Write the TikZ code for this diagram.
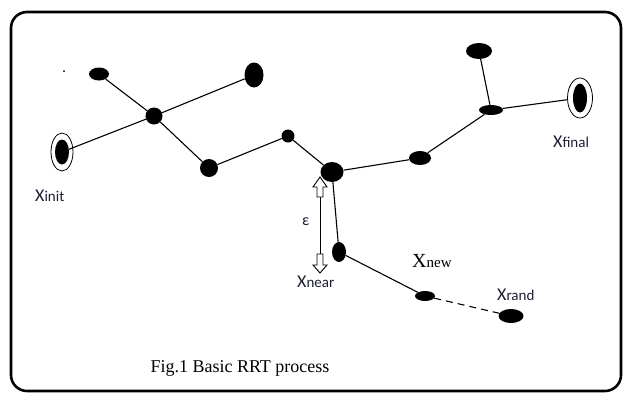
\documentclass[tikz,border=0pt]{standalone}
\usepackage{fontspec}
\setmainfont{Liberation Serif}
\newfontfamily\lblfont{Carlito}
\usetikzlibrary{shapes.geometric}
\definecolor{lblcol}{RGB}{28,30,50}
\newcommand\SX[1]{{\lblfont\fontsize{18}{18}\selectfont X}{\lblfont\fontsize{15}{15}\selectfont #1}}
\newcommand\RX[1]{{\fontsize{20}{20}\selectfont X}{\fontsize{15}{15}\selectfont #1}}
\begin{document}
\begin{tikzpicture}[x=1pt,y=-1pt,
  vtx/.style={ellipse,fill=black,inner sep=0pt},
  ring/.style={ellipse,draw=black,fill=white,line width=0.8pt,inner sep=0pt},
  edge/.style={line width=1.1pt},
  lbl/.style={inner sep=0pt,anchor=base west,text=lblcol},
  hollow/.style={draw=black,fill=white,line width=0.9pt,line join=miter}]
\useasboundingbox (0,0) rectangle (623,394);
\draw[line width=2.6pt,rounded corners=16pt] (11,12) rectangle (621,391);

% vertices
\node[vtx,minimum size=2pt] (dot) at (64,71) {};
\node[vtx,minimum width=20pt,minimum height=13pt] (a) at (99,74) {};
\node[vtx,minimum width=19pt,minimum height=25pt] (b) at (254,75) {};
\node[vtx,minimum width=17pt,minimum height=17pt] (c) at (154,116) {};
\node[ring,minimum width=22pt,minimum height=38pt] (xio) at (62,152) {};
\node[vtx,minimum width=14pt,minimum height=25pt] (xi) at (62,152) {};
\node[vtx,minimum width=18pt,minimum height=18pt] (d) at (209,168) {};
\node[vtx,minimum width=13pt,minimum height=13pt] (e) at (288,136) {};
\node[vtx,minimum width=23pt,minimum height=20pt] (f) at (332,172) {};
\node[vtx,minimum width=22pt,minimum height=14pt] (g) at (420,158) {};
\node[vtx,minimum width=24pt,minimum height=10pt] (h) at (491,110) {};
\node[vtx,minimum width=26pt,minimum height=16pt] (i) at (479,51) {};
\node[ring,minimum width=25pt,minimum height=40pt] (xfo) at (580,98) {};
\node[vtx,minimum width=14pt,minimum height=29pt] (xf) at (580,98) {};
\node[vtx,minimum width=14pt,minimum height=20pt] (j) at (339,252) {};
\node[vtx,minimum width=20pt,minimum height=10pt] (k) at (425,296) {};
\node[vtx,minimum width=25pt,minimum height=14pt] (l) at (511,316) {};

% edges
\draw[edge] (a) -- (c);
\draw[edge] (c) -- (b);
\draw[edge] (xi) -- (c);
\draw[edge] (c) -- (d);
\draw[edge] (d) -- (e);
\draw[edge] (e) -- (f);
\draw[edge] (f) -- (g);
\draw[edge] (g) -- (h);
\draw[edge] (h) -- (i);
\draw[edge] (h) -- (xfo);
\draw[edge] (f) -- (j);
\draw[edge] (j) -- (k);
\draw[edge,dash pattern=on 7pt off 5pt] (k) -- (l);

% epsilon double arrow
\coordinate (atop) at (320,197);
\coordinate (abot) at (320,254);
\draw[line width=1pt] (atop) -- (abot);
\draw[hollow] (320,177) -- (327,187) -- (323,187) -- (323,197) -- (317,197) -- (317,187) -- (313,187) -- cycle;
\draw[hollow] (317,254) -- (323,254) -- (323,265) -- (327,265) -- (320,273) -- (313,265) -- (317,265) -- cycle;

% labels
\node[lbl] (linit) at (35,201) {\SX{init}};
\node[lbl] (lfinal) at (553,147) {\SX{final}};
\node[lbl] (lnear) at (297,287) {\SX{near}};
\node[lbl] (lrand) at (497,300) {\SX{rand}};
\node[lbl,text=black] (lnew) at (412,267) {\RX{new}};
\node[lbl] (leps) at (302,225) {\lblfont\fontsize{16}{16}\selectfont ε};
\node[inner sep=0pt,anchor=base] (cap) at (240,372) {\fontsize{18}{18}\selectfont Fig.1 Basic RRT process};
\end{tikzpicture}
\end{document}
